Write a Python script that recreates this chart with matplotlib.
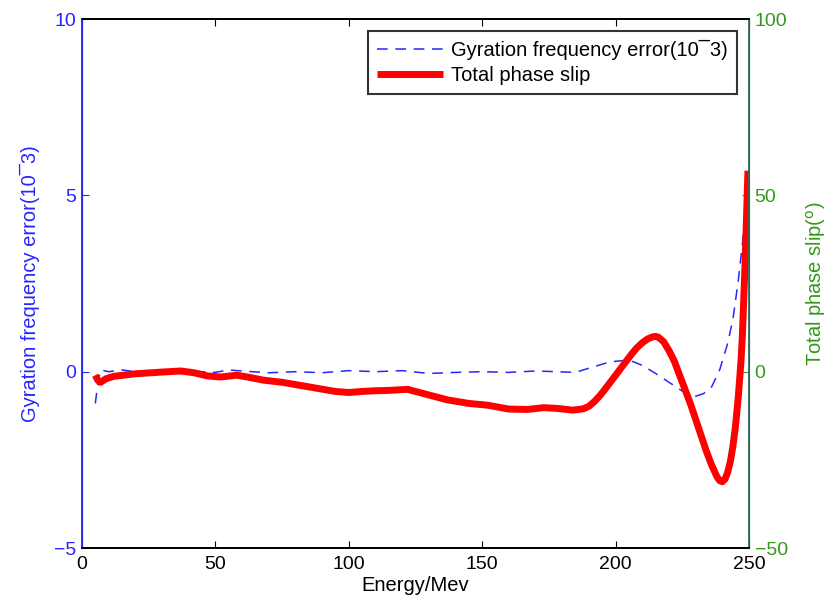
import matplotlib
matplotlib.use("Agg")
import matplotlib.pyplot as plt

plt.rcParams['font.family'] = ['Liberation Sans', 'DejaVu Sans']

# Red: total phase slip (degrees, right axis)
energy_phase = [5, 6, 7, 9, 12, 20, 30, 37, 42, 47, 52, 58, 62, 68, 75, 85, 95, 100,
                105, 110, 115, 122, 130, 137, 145, 152, 160, 167, 173, 178, 184, 188,
                190, 192, 194, 196, 198, 200, 202, 204, 206, 208, 210, 212, 214, 215, 216,
                218, 220, 222, 224, 226, 228, 230, 232, 234, 236, 238, 239, 240, 241,
                242, 243, 244, 245, 246, 247, 247.5, 248.5, 249.6]
phase_slip = [-1.0, -2.5, -3.0, -2.0, -1.3, -0.6, -0.1, 0.2, -0.3, -1.2, -1.5, -1.0, -1.5,
              -2.4, -3.0, -4.3, -5.6, -5.9, -5.6, -5.4, -5.3, -5.0, -6.6, -8.0, -9.0, -9.5,
              -10.6, -10.7, -10.2, -10.4, -10.9, -10.5,
              -9.8, -8.5, -6.9, -5.0, -3.0, -1.0, 1.0, 3.0, 5.0, 6.8, 8.2, 9.3, 9.9, 10.0, 9.8,
              8.5, 6.0, 3.0, -1.0, -5.0, -9.0, -13.5, -18.0, -22.5, -26.5, -29.8, -30.9, -31.2,
              -30.5, -28.5, -25.5, -21.0, -15.0, -7.0, 3.0, 10.0, 30.0, 57.0]

# Blue dashed: gyration frequency error (10^-3, left axis)
energy_gyr = [5, 6, 7, 10, 15, 20, 30, 40, 50, 55, 60, 70, 80, 90, 100, 110, 120, 130,
              140, 150, 160, 170, 178, 185, 190, 198, 205, 210, 215, 220, 225, 229, 233,
              236, 239, 242, 244, 246, 247.5, 249, 249.6]
gyr_error = [-0.9, -0.3, 0.05, 0.0, 0.05, 0.0, 0.0, 0.02, -0.02, 0.05, 0.02, -0.03, 0.0,
             -0.03, 0.03, 0.0, 0.03, -0.05, -0.02, 0.0, -0.02, 0.02, 0.0, -0.02, 0.1,
             0.28, 0.33, 0.18, -0.05, -0.3, -0.55, -0.72, -0.62, -0.43, 0.05, 0.8, 1.5,
             2.6, 3.6, 4.8, 5.6]

xticks = [0, 50, 100, 150, 200, 250]
left_ticks = [-5, 0, 5, 10]
right_ticks = [-50, 0, 50, 100]

blue = (0.15, 0.15, 1.0)
green = (0.2, 0.6, 0.1)

fig = plt.figure(figsize=(8.28, 5.99), dpi=100)
ax = fig.add_axes([0.099, 0.0851, 0.8056, 0.8831])
ax2 = ax.twinx()

l1, = ax.plot(energy_gyr, gyr_error, color=blue, lw=1.1, dashes=(7, 5))
l2, = ax2.plot(energy_phase, phase_slip, color='red', lw=5, solid_capstyle='butt',
               solid_joinstyle='round')

ax.set_xlim(0, 250)
ax.set_ylim(-5, 10)
ax2.set_ylim(-50, 100)
ax.set_xticks(xticks)
ax.set_yticks(left_ticks)
ax2.set_yticks(right_ticks)

ax.tick_params(axis='x', direction='in', top=True, length=5, labelsize=14, colors='black', pad=6)
ax.tick_params(axis='y', direction='in', length=5, labelsize=14, colors=blue, pad=4)
ax2.tick_params(axis='y', direction='in', length=5, labelsize=14, colors=green, pad=4)

for a in (ax, ax2):
    a.spines['top'].set_color('black')
    a.spines['bottom'].set_color('black')
    a.spines['top'].set_linewidth(1.3)
    a.spines['bottom'].set_linewidth(1.3)
ax2.spines['left'].set_color(blue)
ax2.spines['left'].set_linewidth(1.3)
ax2.spines['right'].set_color('#2e6e5e')
ax2.spines['right'].set_linewidth(1.3)

ax.set_xlabel('Energy/Mev', fontsize=14.5, labelpad=2)
ax.set_ylabel('Gyration frequency error(10\u00af3)', fontsize=14.5, color=blue, labelpad=10)
ax2.set_ylabel('Total phase slip($^{\\rm o}$)', fontsize=14.5, color=green, labelpad=12)

leg = ax2.legend([l1, l2], ['Gyration frequency error(10\u00af3)', 'Total phase slip'],
                 loc='upper right', fontsize=14.5, frameon=True, fancybox=False,
                 handlelength=3.3, borderaxespad=0.6, handletextpad=0.4,
                 labelspacing=0.3, borderpad=0.45)
leg.get_frame().set_edgecolor('black')
leg.get_frame().set_linewidth(1.5)

fig.savefig('out.png', dpi=100)
